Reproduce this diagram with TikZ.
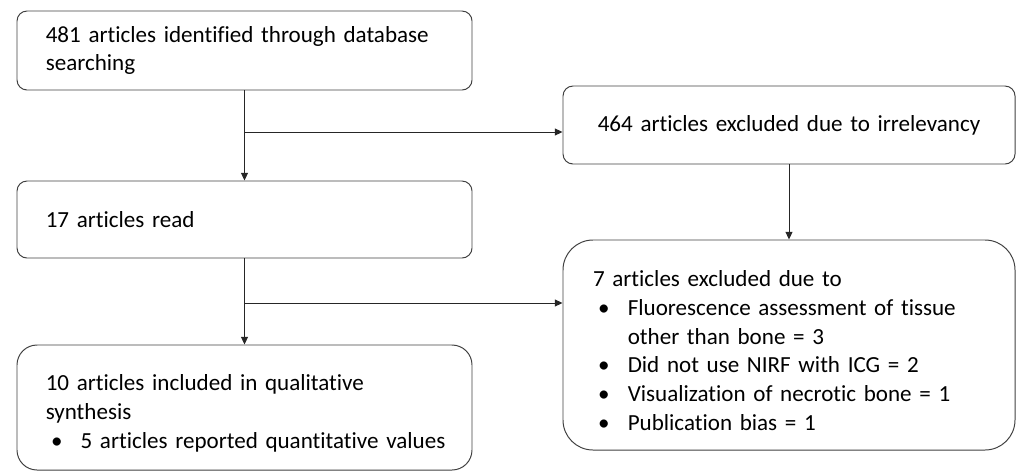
\documentclass[tikz,border=0pt]{standalone}
\usepackage{fontspec}
\setmainfont{Carlito}[Ligatures=NoCommon]
\usetikzlibrary{arrows.meta,positioning}

\newcommand{\marca}{\hspace*{0.13cm}\makebox[0.74cm][l]{\textbullet}}
\newcommand{\recuo}{\hspace*{0.87cm}}
\newcommand{\topo}{\rule{0pt}{0.68cm}}

\tikzset{
  caixa/.style={rectangle, draw=black!75, line width=0.7pt, rounded corners=0.25cm,
    inner xsep=0.72cm, inner ysep=0pt, text width=9.935cm, align=left,
    font=\fontsize{16.4}{20.4}\selectfont},
  seta/.style={draw=black!85, line width=0.7pt, -{Triangle[length=5.5pt,width=5pt]}}
}

\begin{document}
\begin{tikzpicture}
\useasboundingbox (0,0) rectangle (25.4,-11.8);

\node[caixa, minimum height=1.975cm] (Id) at (6.1125,-1.2625) {481 articles identified through database\\searching};
\node[caixa, minimum height=1.925cm] (Rd) at (6.1125,-5.4875) {17 articles read};
\node[caixa, minimum height=3.125cm, rounded corners=0.5cm, font=\fontsize{16.4}{20.8}\selectfont] (Inc) at (6.1125,-10.1875) {\topo 10 articles included in qualitative\\synthesis\\\marca \mbox{5 articles reported quantitative values}};

\node[caixa, minimum height=1.95cm, text width=9.86cm, align=center] (Exc1) at (19.725,-3.125) {464 articles excluded due to irrelevancy};
\node[caixa, minimum height=5.25cm, inner xsep=0.75cm, text width=9.8cm, rounded corners=0.75cm] (Exc2) at (19.725,-8.625) {\topo 7 articles excluded due to\\
\marca Fluorescence assessment of tissue\\
\recuo other than bone = 3\\
\marca Did not use NIRF with ICG = 2\\
\marca Visualization of necrotic bone = 1\\
\marca Publication bias = 1};

\coordinate (j1) at (Id.south |- 0,-3.3);
\coordinate (j2) at (Rd.south |- 0,-7.575);

\draw[seta] (Id) -- (Rd);
\draw[seta] (j1) -- (j1 -| Exc1.west);
\draw[seta] (Exc1) -- (Exc2);
\draw[seta] (Rd) -- (Inc);
\draw[seta] (j2) -- (j2 -| Exc2.west);
\end{tikzpicture}
\end{document}
